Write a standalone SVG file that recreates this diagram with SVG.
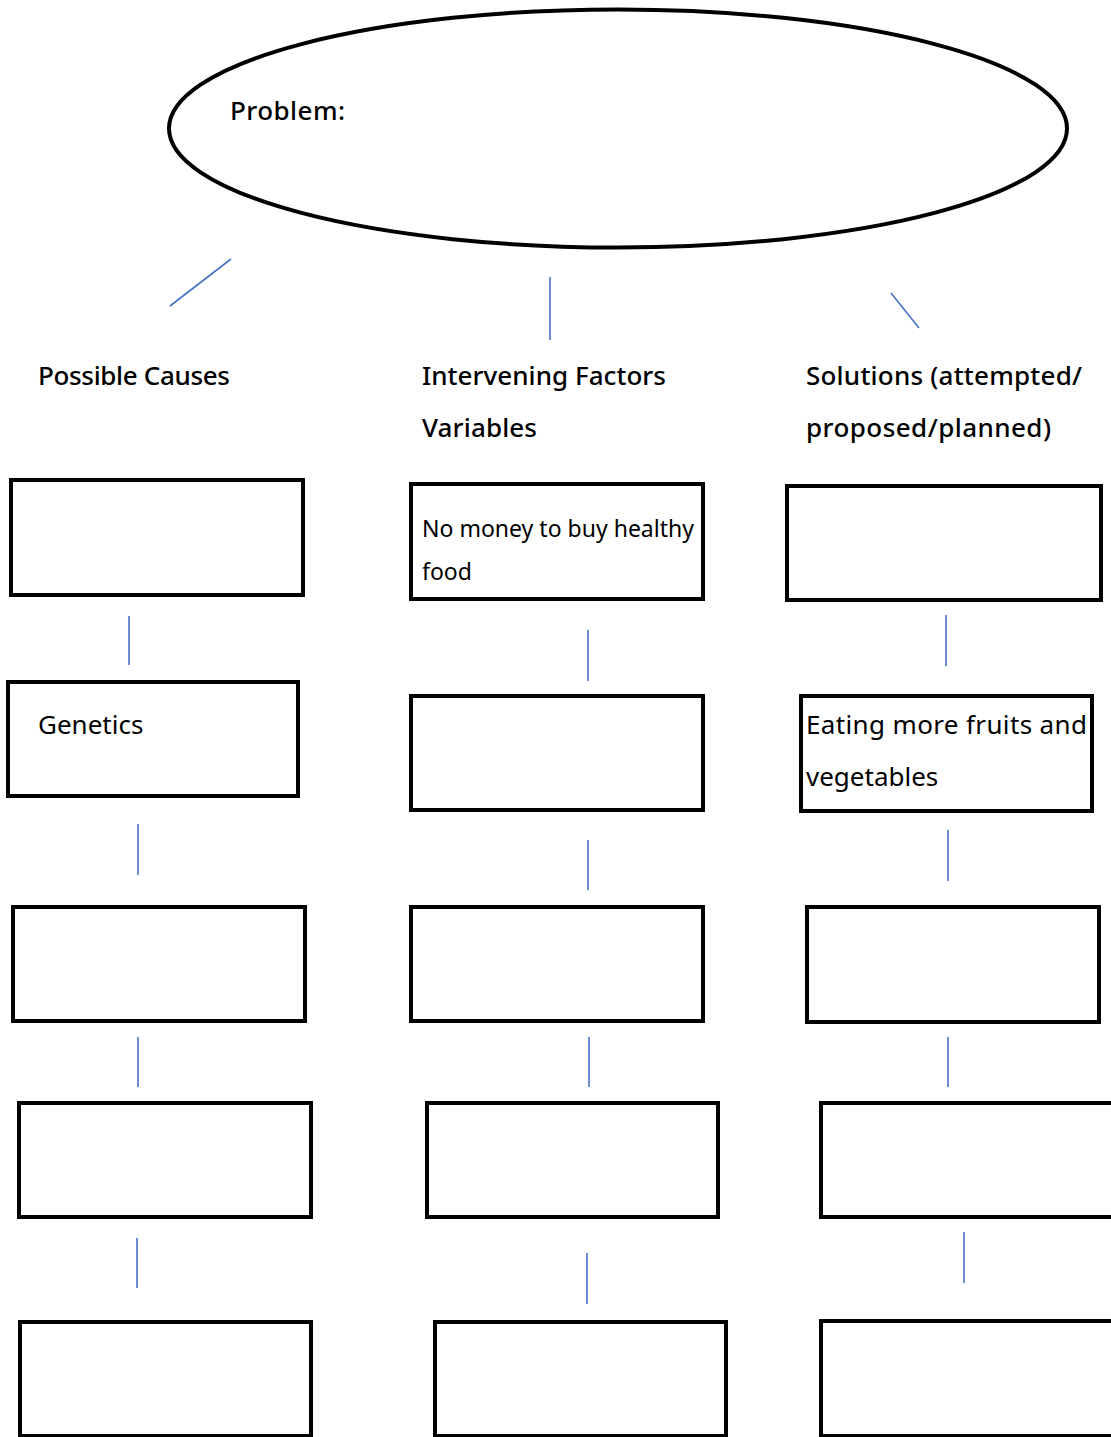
<svg xmlns="http://www.w3.org/2000/svg" width="1111" height="1437" viewBox="0 0 1111 1437">
<style>
.box{fill:#fff;stroke:#000;stroke-width:4}
.conn line{stroke:#4472C4;stroke-width:1.6}
text{font-family:"Noto Sans","Open Sans",sans-serif;fill:#000}
.h{font-size:26px}
.b{font-weight:500}
.s{font-size:23px}
</style>
<rect width="1111" height="1437" fill="#fff"/>
<g id="problem">
<ellipse cx="618" cy="128.5" rx="449" ry="119" fill="#fff" stroke="#000" stroke-width="4"/>
<text class="h b" x="230" y="120" textLength="115">Problem:</text>
</g>
<g class="conn" id="connectors">
<line x1="231" y1="259" x2="170" y2="306"/>
<line x1="550" y1="277" x2="550" y2="340"/>
<line x1="891" y1="293" x2="919" y2="328"/>
<line x1="129" y1="616" x2="129" y2="665"/>
<line x1="138" y1="824" x2="138" y2="875"/>
<line x1="138" y1="1037" x2="138" y2="1087"/>
<line x1="137" y1="1238" x2="137" y2="1288"/>
<line x1="588" y1="630" x2="588" y2="681"/>
<line x1="588" y1="840" x2="588" y2="890"/>
<line x1="589" y1="1037" x2="589" y2="1087"/>
<line x1="587" y1="1253" x2="587" y2="1304"/>
<line x1="946" y1="615" x2="946" y2="666"/>
<line x1="948" y1="830" x2="948" y2="881"/>
<line x1="948" y1="1037" x2="948" y2="1087"/>
<line x1="964" y1="1232" x2="964" y2="1283"/>
</g>
<g id="header-causes"><text class="h b" x="38" y="385" textLength="192">Possible Causes</text></g>
<g id="header-factors"><text class="h b" x="422" y="385" textLength="244">Intervening Factors</text><text class="h b" x="422" y="437" textLength="115">Variables</text></g>
<g id="header-solutions"><text class="h b" x="806" y="385" textLength="276">Solutions (attempted/</text><text class="h b" x="806" y="437" textLength="245">proposed/planned)</text></g>
<g id="c1r1"><rect class="box" x="11" y="480" width="292" height="115"/></g>
<g id="c1r2"><rect class="box" x="8" y="682" width="290" height="114"/><text class="h" x="38" y="734">Genetics</text></g>
<g id="c1r3"><rect class="box" x="13" y="907" width="292" height="114"/></g>
<g id="c1r4"><rect class="box" x="19" y="1103" width="292" height="114"/></g>
<g id="c1r5"><rect class="box" x="20" y="1322" width="291" height="114"/></g>
<g id="c2r1"><rect class="box" x="411" y="484" width="292" height="115"/><text class="s" x="422" y="537" textLength="272">No money to buy healthy</text><text class="s" x="422" y="580">food</text></g>
<g id="c2r2"><rect class="box" x="411" y="696" width="292" height="114"/></g>
<g id="c2r3"><rect class="box" x="411" y="907" width="292" height="114"/></g>
<g id="c2r4"><rect class="box" x="427" y="1103" width="291" height="114"/></g>
<g id="c2r5"><rect class="box" x="435" y="1322" width="291" height="114"/></g>
<g id="c3r1"><rect class="box" x="787" y="486" width="314" height="114"/></g>
<g id="c3r2"><rect class="box" x="801" y="696" width="291" height="115"/><text class="h" x="806" y="734" textLength="281">Eating more fruits and</text><text class="h" x="806" y="786">vegetables</text></g>
<g id="c3r3"><rect class="box" x="807" y="907" width="292" height="115"/></g>
<g id="c3r4"><rect class="box" x="821" y="1103" width="294" height="114"/></g>
<g id="c3r5"><rect class="box" x="821" y="1321" width="294" height="115"/></g>
</svg>
